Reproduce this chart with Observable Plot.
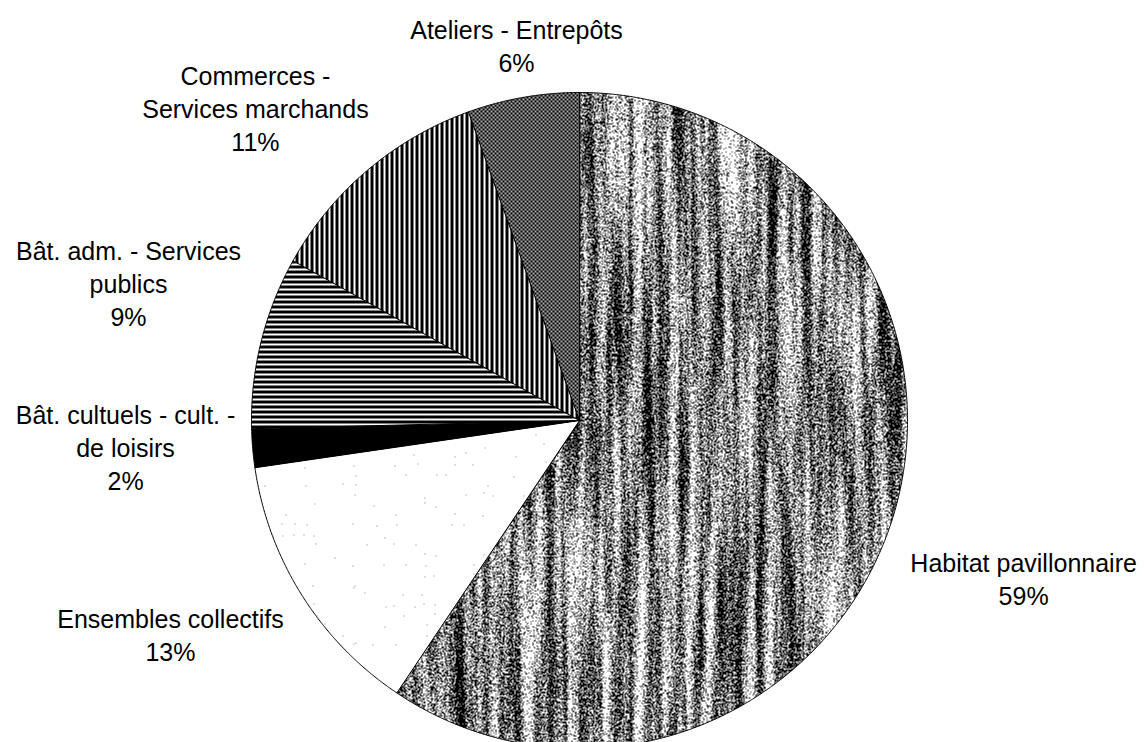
<!DOCTYPE html>
<html><head><meta charset="utf-8">
<script src="https://cdn.jsdelivr.net/npm/d3@7"></script>
<script src="https://cdn.jsdelivr.net/npm/@observablehq/plot@0.6"></script>
<style>html,body{margin:0;padding:0;background:#fff;overflow:hidden}</style>
</head><body>
<svg width="0" height="0" style="position:absolute;left:0;top:0">
<defs>
  <filter id="habNoise" filterUnits="userSpaceOnUse" x="0" y="0" width="1144" height="742" color-interpolation-filters="sRGB">
    <feTurbulence type="fractalNoise" baseFrequency="0.09 0.004" numOctaves="3" seed="4" result="b0"/>
    <feColorMatrix in="b0" type="matrix" values="1 0 0 0 0  1 0 0 0 0  1 0 0 0 0  0 0 0 0 1" result="bands"/>
    <feTurbulence type="fractalNoise" baseFrequency="0.9 0.6" numOctaves="2" seed="11" result="g0"/>
    <feColorMatrix in="g0" type="matrix" values="1 0 0 0 0  1 0 0 0 0  1 0 0 0 0  0 0 0 0 1" result="grain"/>
    <feComposite in="bands" in2="grain" operator="arithmetic" k1="0" k2="1.4" k3="2.4" k4="-1.42" result="mix"/>
    <feColorMatrix in="mix" type="matrix" values="0 0 0 0 0  0 0 0 0 0  0 0 0 0 0  1 0 0 0 0" result="dk"/>
    <feComponentTransfer in="dk" result="bin"><feFuncA type="discrete" tableValues="0 1"/></feComponentTransfer>
    <feFlood flood-color="#ffffff" result="w"/>
    <feMerge><feMergeNode in="w"/><feMergeNode in="bin"/></feMerge>
  </filter>
  <filter id="ensNoise" filterUnits="userSpaceOnUse" x="0" y="0" width="1144" height="742" color-interpolation-filters="sRGB">
    <feTurbulence type="fractalNoise" baseFrequency="0.9" numOctaves="1" seed="3" result="g0"/>
    <feColorMatrix in="g0" type="matrix" values="0 0 0 0 0.5  0 0 0 0 0.5  0 0 0 0 0.5  5 0 0 0 -3.35" result="dk"/>
    <feComponentTransfer in="dk" result="bin"><feFuncA type="discrete" tableValues="0 1"/></feComponentTransfer>
    <feFlood flood-color="#ffffff" result="w"/>
    <feMerge><feMergeNode in="w"/><feMergeNode in="bin"/></feMerge>
  </filter>
  <pattern id="habTex" patternUnits="userSpaceOnUse" x="0" y="0" width="1144" height="742">
    <rect x="0" y="0" width="1144" height="742" fill="#888" filter="url(#habNoise)"/>
  </pattern>
  <pattern id="ensTex" patternUnits="userSpaceOnUse" x="0" y="0" width="1144" height="742">
    <rect x="0" y="0" width="1144" height="742" fill="#fff" filter="url(#ensNoise)"/>
  </pattern>
  <pattern id="vStripes" patternUnits="userSpaceOnUse" x="0" y="0" width="5" height="5">
    <rect x="0" y="0" width="5" height="5" fill="#fff"/>
    <rect x="0" y="0" width="3" height="5" fill="#000"/>
  </pattern>
  <pattern id="hStripes" patternUnits="userSpaceOnUse" x="0" y="0" width="5" height="5">
    <rect x="0" y="0" width="5" height="5" fill="#fff"/>
    <rect x="0" y="0" width="5" height="3" fill="#000"/>
  </pattern>
  <pattern id="dots" patternUnits="userSpaceOnUse" x="0" y="0" width="4" height="4">
    <rect x="0" y="0" width="4" height="4" fill="#000"/>
    <circle cx="1" cy="1" r="0.9" fill="#fff"/>
    <circle cx="3" cy="3" r="0.9" fill="#fff"/>
  </pattern>
</defs>
</svg>
<div id="chart"></div>
<script>
// ---- data ----
const categories = [
  "Habitat pavillonnaire",
  "Ensembles collectifs",
  "Bât. cultuels - cult. - de loisirs",
  "Bât. adm. - Services publics",
  "Commerces - Services marchands",
  "Ateliers - Entrepôts"
];
const values = [59.4, 13.3, 1.9, 8.5, 11.4, 5.5];
const labelLines = [
  ["Habitat pavillonnaire"],
  ["Ensembles collectifs"],
  ["Bât. cultuels - cult. -", "de loisirs"],
  ["Bât. adm. - Services", "publics"],
  ["Commerces -", "Services marchands"],
  ["Ateliers - Entrepôts"]
];
const pctLabels = ["59%", "13%", "2%", "9%", "11%", "6%"];

// ---- layout / style ----
const CX = 579, CY = 420, R = 328;
const fills = ["url(#habTex)", "url(#ensTex)", "#000", "url(#hStripes)", "url(#vStripes)", "url(#dots)"];
// label anchor positions, in pie-radius units relative to the centre
const labelPos = [[1.354, 0.480], [-1.247, 0.652], [-1.384, 0.078], [-1.375, -0.420], [-0.988, -0.955], [-0.192, -1.145]];

const arcs = d3.pie().sort(null).value(d => d)(values);
const slices = arcs.map(a => {
  const pts = [{x: 0, y: 0}];
  const n = Math.max(4, Math.ceil((a.endAngle - a.startAngle) / (Math.PI / 720)));
  for (let k = 0; k <= n; k++) {
    const t = a.startAngle + (a.endAngle - a.startAngle) * k / n;
    pts.push({x: Math.sin(t), y: -Math.cos(t)});
  }
  return pts;
});

const labelData = categories.map((c, i) => ({
  name: c,
  t: [...labelLines[i], pctLabels[i]].join("\n"),
  x: labelPos[i][0],
  y: labelPos[i][1]
}));

const chart = Plot.plot({
  width: 1144,
  height: 742,
  margin: 0,
  x: {domain: [-1, 1], range: [CX - R, CX + R], axis: null},
  y: {domain: [-1, 1], range: [CY - R, CY + R], axis: null},
  style: {fontFamily: "'Liberation Sans', Arial, sans-serif", background: "#fff", color: "#000"},
  marks: [
    ...slices.map((pts, i) => Plot.line(pts, {
      x: "x", y: "y", fill: fills[i], stroke: "#000", strokeWidth: 1, curve: "linear-closed"
    })),
    Plot.text(labelData, {
      x: "x", y: "y", text: "t", fontSize: 25, lineHeight: 1.32,
      textAnchor: "middle", lineAnchor: "middle", fill: "#000"
    })
  ]
});
document.getElementById("chart").appendChild(chart);
</script>
</body></html>
